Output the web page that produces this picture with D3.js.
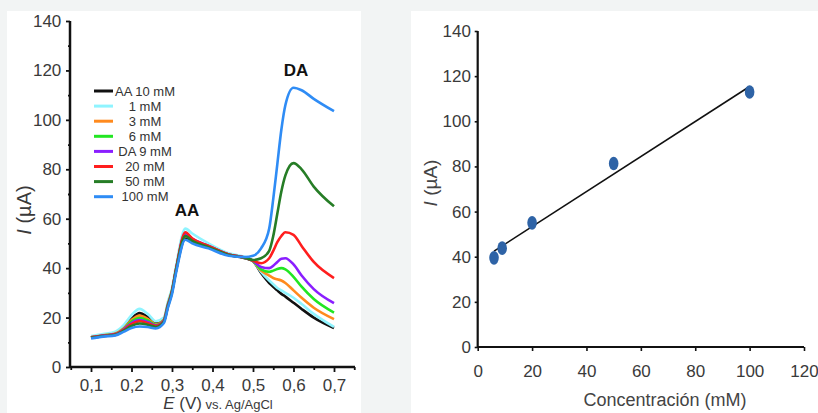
<!DOCTYPE html>
<html>
<head>
<meta charset="utf-8">
<script src="https://cdn.jsdelivr.net/npm/d3@7"></script>
<style>
body{margin:0;background:#f2f4f4;}
svg{display:block;font-family:Arial,"Liberation Sans",sans-serif;}
</style>
</head>
<body>
<svg id="fig" width="818" height="413"></svg>
<script>
// ---- data: voltammograms (left) ----
var E = [0.10,0.13,0.16,0.18,0.20,0.22,0.24,0.26,0.28,0.29,0.30,0.31,0.333,0.35,0.39,0.44,0.48,0.50,0.52,0.54,0.55,0.56,0.57,0.58,0.60,0.62,0.65,0.70];

var labels = ["AA 10 mM","1 mM","3 mM","6 mM","DA 9 mM","20 mM","50 mM","100 mM"];
var colors = ["#111111","#8ff4ff","#ff8a1e","#22e622","#8a1eff","#ff1e1e","#267d26","#2f8cf5"];

var cAA10 = [12,12.8,13.6,15.8,19.5,21.8,20.2,17.8,19.5,25.5,31,39,52,51,48.5,45.3,44,42.8,38,34,32.5,31,29.6,28.5,26,23.5,20,15.8];
var c1    = [12.5,13.3,14.3,16.8,21,23.5,21.5,18.5,20,26.5,32,41,56,54,50,46,44.5,43,38.5,35,33.5,32,31,30,28,25.5,21.5,16.2];
var c3    = [12,12.8,13.6,15.6,19,20.8,19.5,17.3,19.2,25.5,31,39.5,53,51.5,48.8,45.5,44.2,43,39,37,36,35.5,35,34,31,28,24,19.4];
var c6    = [12,12.7,13.4,15.3,18.4,19.8,18.8,17,19,25.2,30.8,39.5,53.5,51.5,49,45.5,44.2,43,39.5,38.5,39,39.7,40,39.5,36.5,32.5,27.5,22];
var c9    = [12,12.7,13.3,15.1,17.8,19,18.2,16.8,18.8,25,30.6,39.5,54,52,49,45.5,44.2,43,40.5,40,41,42.5,43.8,44,41.5,37,31.5,25.8];
var c20   = [12,12.6,13.2,14.9,17.3,18.5,17.7,16.6,18.6,24.8,30.5,39.5,54.5,52,49,45.5,44.2,43,42,44,47,50.5,53,54.5,53.5,49,42.5,36];
var c50   = [11.8,12.5,13,14.6,16.6,17.6,17.1,16.2,18.3,24.5,30.2,39,53,51,48.5,45.3,44.2,43.3,44,47,53,62,71,77.5,82.5,80,73,65];
var c100  = [11.5,12.3,12.8,14.2,15.8,16.4,16.2,15.6,17.8,24,29.5,38,51.5,50,48,45,44.5,45,48,56,68,82,96,106,113,112,108.5,103.5];
var curves = [cAA10,c1,c3,c6,c9,c20,c50,c100];

var eTicks = [0.1,0.2,0.3,0.4,0.5,0.6,0.7];
var iTicks = [0,20,40,60,80,100,120,140];

// ---- data: calibration (right) ----
var conc = [6,9,20,50,100];
var peakI = [39.5,43.8,55,81.3,113];
var concTicks = [0,20,40,60,80,100,120];

var svg = d3.select("#fig");

// panels
svg.append("rect").attr("x",7).attr("y",11).attr("width",354).attr("height",402).attr("fill","#fff");
svg.append("rect").attr("x",411).attr("y",11).attr("width",407).attr("height",402).attr("fill","#fff");

// ================= left chart =================
var L = {x0:70, x1:355, y0:367, y1:21};
var x = d3.scaleLinear().domain([0.1,0.7]).range([91,334]);
var y = d3.scaleLinear().domain([0,140]).range([L.y0,L.y1]);

var gl = svg.append("g");

var line = d3.line().x(function(d){return x(d[0])}).y(function(d){return y(d[1])}).curve(d3.curveMonotoneX);

gl.selectAll(".cv").data(curves).enter().append("path")
	.attr("class","cv")
	.attr("d",function(d){ return line(E.map(function(e,i){return [e,d[i]]})) })
	.attr("fill","none")
	.attr("stroke",function(d,i){return colors[i]})
	.attr("stroke-width",2.6)
	.attr("stroke-linejoin","round");

// axes
var xAx = gl.append("g").attr("transform","translate(0,"+L.y0+")")
	.call(d3.axisBottom(x).tickValues(eTicks).tickSize(5).tickFormat(function(d){return d3.format(".1f")(d).replace(".",",")}));
gl.append("g").attr("transform","translate(0,"+L.y0+")")
	.call(d3.axisBottom(x).tickValues(d3.range(0.05,0.751,0.1)).tickSize(3).tickFormat(""))
	.call(function(g){g.select(".domain").remove()});
xAx.select(".domain").remove();
gl.append("line").attr("x1",L.x0).attr("x2",L.x1).attr("y1",L.y0).attr("y2",L.y0).attr("stroke","#111").attr("stroke-width",2.5);

var yAx = gl.append("g").attr("transform","translate("+L.x0+",0)")
	.call(d3.axisLeft(y).tickValues(iTicks).tickSize(4));
gl.append("g").attr("transform","translate("+L.x0+",0)")
	.call(d3.axisLeft(y).tickValues(d3.range(10,140,20)).tickSize(2).tickFormat(""))
	.call(function(g){g.select(".domain").remove()});
yAx.select(".domain").remove();
gl.append("line").attr("x1",L.x0).attr("x2",L.x0).attr("y1",L.y1).attr("y2",L.y0+1).attr("stroke","#111").attr("stroke-width",2.5);

gl.selectAll(".tick line").attr("stroke","#111").attr("stroke-width",1.8);
xAx.selectAll("text").attr("font-size",17).attr("fill","#3a3a3a").attr("dy","0.95em").attr("font-family",null);
yAx.selectAll("text").attr("font-size",17).attr("fill","#3a3a3a").attr("dx","-0.1em").attr("font-family",null);

// axis titles
var xt = gl.append("text").attr("x",218).attr("y",409).attr("text-anchor","middle").attr("fill","#3a3a3a");
xt.append("tspan").attr("font-size",17).attr("font-style","italic").text("E");
xt.append("tspan").attr("font-size",17).text(" (V)");
xt.append("tspan").attr("font-size",13).text(" vs. Ag/AgCl");

var yt = gl.append("text").attr("transform","translate(31,210) rotate(-90)").attr("text-anchor","middle").attr("fill","#3a3a3a").attr("font-size",20);
yt.append("tspan").attr("font-style","italic").text("I");
yt.append("tspan").text(" (\u00b5A)");

gl.append("text").attr("x",187).attr("y",216).attr("text-anchor","middle").attr("font-weight","bold").attr("font-size",17).attr("fill","#111").text("AA");
gl.append("text").attr("x",296).attr("y",76).attr("text-anchor","middle").attr("font-weight","bold").attr("font-size",17).attr("fill","#111").text("DA");

// legend
var leg = gl.selectAll(".lg").data(labels).enter().append("g")
	.attr("transform",function(d,i){return "translate(0,"+(91+i*15.1)+")"});
leg.append("line").attr("x1",94).attr("x2",113).attr("stroke",function(d,i){return colors[i]}).attr("stroke-width",3);
leg.append("text").attr("x",145).attr("dy","0.36em").attr("text-anchor","middle").attr("font-size",13).attr("fill","#333").text(function(d){return d});

// ================= right chart =================
var R = {x0:477.7, x1:804, y0:347, y1:31};
var xr = d3.scaleLinear().domain([0,120]).range([R.x0,R.x1]);
var yr = d3.scaleLinear().domain([0,140]).range([R.y0,R.y1]);
var gr = svg.append("g");

// least-squares line through the points
var mx = d3.mean(conc), my = d3.mean(peakI);
var sxy = d3.sum(conc,function(c,i){return (c-mx)*(peakI[i]-my)});
var sxx = d3.sum(conc,function(c){return (c-mx)*(c-mx)});
var slope = sxy/sxx, icpt = my - slope*mx;
var xe = d3.extent(conc);
gr.append("line")
	.attr("x1",xr(xe[0])).attr("y1",yr(icpt+slope*xe[0]))
	.attr("x2",xr(xe[1])).attr("y2",yr(icpt+slope*xe[1]))
	.attr("stroke","#111").attr("stroke-width",1.6);

gr.selectAll(".pt").data(conc).enter().append("ellipse")
	.attr("cx",function(d){return xr(d)})
	.attr("cy",function(d,i){return yr(peakI[i])})
	.attr("rx",4.8).attr("ry",6.8)
	.attr("fill","#2e63a6");

var xrAx = gr.append("g").attr("transform","translate(0,"+R.y0+")")
	.call(d3.axisBottom(xr).tickValues(concTicks).tickSize(4));
xrAx.select(".domain").remove();
gr.append("line").attr("x1",R.x0).attr("x2",R.x1).attr("y1",R.y0).attr("y2",R.y0).attr("stroke","#111").attr("stroke-width",2.2);

var yrAx = gr.append("g").attr("transform","translate("+R.x0+",0)")
	.call(d3.axisLeft(yr).tickValues(iTicks).tickSize(3));
yrAx.select(".domain").remove();
gr.append("line").attr("x1",R.x0).attr("x2",R.x0).attr("y1",R.y1).attr("y2",R.y0+1).attr("stroke","#111").attr("stroke-width",2.2);

gr.selectAll(".tick line").attr("stroke","#111").attr("stroke-width",1.6);
xrAx.selectAll("text").attr("font-size",17).attr("fill","#3a3a3a").attr("dy","1.35em").attr("font-family",null);
yrAx.selectAll("text").attr("font-size",17).attr("fill","#3a3a3a").attr("dx","-0.05em").attr("font-family",null);

gr.append("text").attr("x",665).attr("y",406).attr("text-anchor","middle").attr("font-size",18).attr("fill","#444").text("Concentraci\u00f3n (mM)");
var yrt = gr.append("text").attr("transform","translate(437,183) rotate(-90)").attr("text-anchor","middle").attr("fill","#444").attr("font-size",19);
yrt.append("tspan").attr("font-style","italic").text("I");
yrt.append("tspan").text(" (\u00b5A)");
</script>
</body>
</html>
